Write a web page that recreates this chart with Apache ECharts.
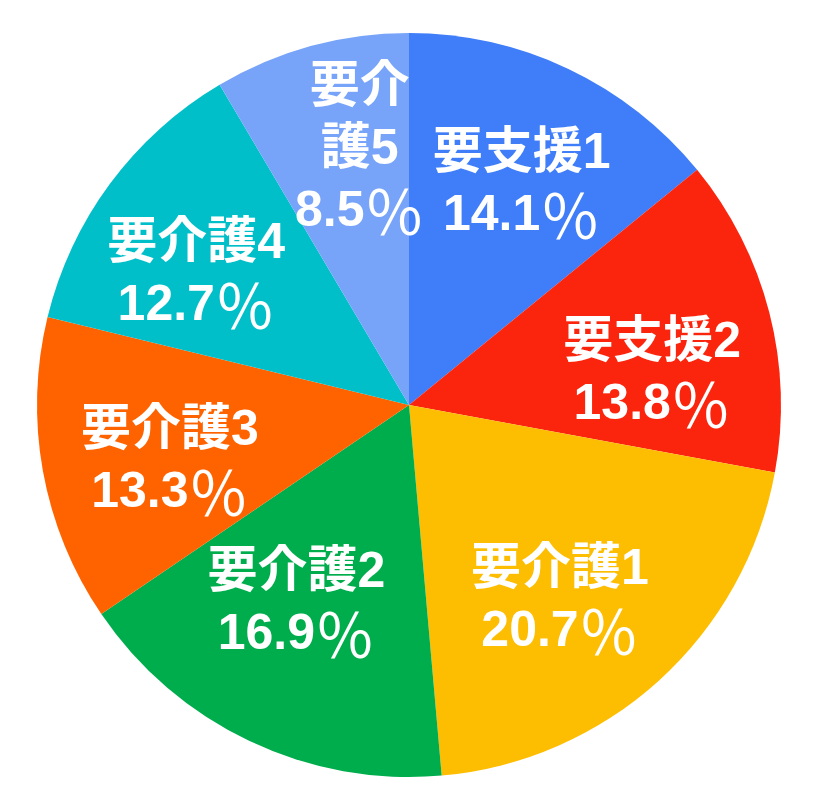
<!DOCTYPE html>
<html>
<head>
<meta charset="utf-8">
<script src="https://cdn.jsdelivr.net/npm/echarts@6/dist/echarts.min.js"></script>
<style>
html,body{margin:0;padding:0;background:#fff;}
#chart{width:821px;height:789px;}
</style>
</head>
<body>
<div id="chart"></div>
<script>
const categories = ['要支援1', '要支援2', '要介護1', '要介護2', '要介護3', '要介護4', '要介護5'];
const shares = [14.1, 13.8, 20.7, 16.9, 13.3, 12.7, 8.5];
const sliceColors = ['#3f7ef8', '#fb250e', '#fdbd00', '#00ad4d', '#ff6300', '#00bfc9', '#77a4f9'];
// small label nudges (style only) to mimic the reference label placement
const labelNudges = [[5, 7], [0, 32], [-18, 10], [-5, -28], [8, 12], [-11, 20], [17, -13]];

const chart = echarts.init(document.getElementById('chart'), null, {renderer: 'canvas'});
const FONT = '"Liberation Sans", "Noto Sans CJK JP", sans-serif';
const CJK = '"Noto Sans CJK JP", sans-serif';
const CENTER = [409, 405];
const RADIUS = 372;
const LABEL_RADIUS = 0.675; // fraction of the pie radius

const total = shares.reduce((a, b) => a + b, 0);
const pieData = categories.map((c, i) => ({name: c, value: shares[i], itemStyle: {color: sliceColors[i]}}));

// label anchors: slice mid-angles through the polar angle axis (0..total, clockwise from top)
let acc = 0;
const labelData = categories.map((c, i) => {
  const mid = acc + shares[i] / 2;
  acc += shares[i];
  return {name: c, value: [LABEL_RADIUS, mid], label: {offset: labelNudges[i]}};
});

function labelText(p) {
  let name = p.name;
  // the narrow last slice wraps its name onto two lines
  if (p.dataIndex === categories.length - 1) name = name.slice(0, 2) + '}\n{n|' + name.slice(2);
  return '{n|' + name + '}\n{v|' + shares[p.dataIndex].toFixed(1) + '}{p|％}';
}

chart.setOption({
  backgroundColor: '#ffffff',
  animation: false,
  polar: {center: CENTER, radius: RADIUS},
  angleAxis: {type: 'value', min: 0, max: total, startAngle: 90, clockwise: true, show: false},
  radiusAxis: {type: 'value', min: 0, max: 1, show: false},
  series: [
    {
      type: 'pie',
      center: CENTER,
      radius: [0, RADIUS],
      startAngle: 90,
      clockwise: true,
      silent: true,
      label: {show: false},
      labelLine: {show: false},
      data: pieData
    },
    {
      type: 'scatter',
      coordinateSystem: 'polar',
      symbolSize: 0,
      silent: true,
      z: 5,
      itemStyle: {opacity: 1},
      label: {
        show: true,
        position: 'inside',
        color: '#ffffff',
        opacity: 1,
        align: 'center',
        verticalAlign: 'middle',
        formatter: labelText,
        rich: {
          n: {color: '#fff', fontFamily: FONT, fontWeight: 'bold', fontSize: 50, lineHeight: 62},
          v: {color: '#fff', fontFamily: FONT, fontWeight: 'bold', fontSize: 50, lineHeight: 62},
          p: {color: '#fff', fontFamily: CJK, fontWeight: 'normal', fontSize: 60, lineHeight: 62}
        }
      },
      data: labelData
    }
  ]
});
</script>
</body>
</html>
